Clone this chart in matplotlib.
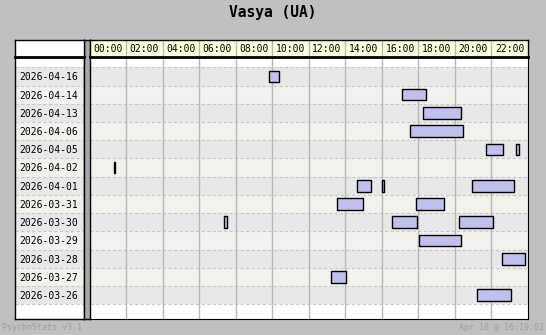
import numpy as np
import matplotlib
matplotlib.use("Agg")
import matplotlib.pyplot as plt

W, H = 546, 335

days = ["2026-04-16", "2026-04-14", "2026-04-13", "2026-04-06", "2026-04-05",
        "2026-04-02", "2026-04-01", "2026-03-31", "2026-03-30", "2026-03-29",
        "2026-03-28", "2026-03-27", "2026-03-26"]

# sessions per day as (start hour, end hour)
sessions = [
    [(9.8, 10.35)],
    [(17.1, 18.44)],
    [(18.25, 20.36)],
    [(17.54, 20.46)],
    [(21.7, 22.65), (23.34, 23.53)],
    [(1.35, 1.42)],
    [(14.64, 15.43), (16.01, 16.14), (20.94, 23.26)],
    [(13.55, 14.99), (17.87, 19.42)],
    [(7.35, 7.5), (16.56, 17.95), (20.22, 22.11)],
    [(18.04, 20.36)],
    [(22.58, 23.86)],
    [(13.22, 14.06)],
    [(21.21, 23.09)],
]

hour_ticks = list(range(0, 24, 2))
hour_labels = [f"{h:02d}:00" for h in hour_ticks]

title = "Vasya (UA)"
footer_left = "PsychoStats v3.1"
footer_right = "Apr 18 @ 16:19:02"

BG = "#c0c0c0"
ROW_A = "#e8e8e8"
ROW_B = "#f3f1ec"
HEAD = "#ffffdc"
BAR = "#c0c0ee"
GRID = "#b8b8b8"
MONO = "DejaVu Sans Mono"


def box(x0, y0, x1, y1):
    # pixel box (top-left origin) -> figure fraction rect
    return [x0 / W, 1 - y1 / H, (x1 - x0) / W, (y1 - y0) / H]


fig = plt.figure(figsize=(W / 100, H / 100), dpi=100, facecolor=BG)

n = len(days)
row_h = (304.3 - 67.3) / n
pad_top = (67.3 - 57) / row_h
pad_bot = (319 - 304.3) / row_h
ylim = (n - 0.5 + pad_bot, -0.5 - pad_top)

# main plot area
ax = fig.add_axes(box(89.5, 57, 528, 319))
ax.set_xlim(0, 24)
ax.set_ylim(*ylim)
ax.set_facecolor("white")
for i in range(n):
    ax.axhspan(i - 0.5, i + 0.5, color=ROW_A if i % 2 == 0 else ROW_B, lw=0, zorder=0)
    ax.axhline(i - 0.5, color="#c8c8c8", lw=0.8, ls=(0, (3, 2)), zorder=1)
ax.axhline(n - 0.5, color="#c8c8c8", lw=0.8, ls=(0, (3, 2)), zorder=1)
for h in hour_ticks[1:]:
    ax.axvline(h, color=GRID, lw=1, zorder=1)
for i, segs in enumerate(sessions):
    ax.broken_barh([(s, e - s) for s, e in segs], (i - 0.32, 0.64),
                   facecolor=BAR, edgecolor="black", lw=1, zorder=3)
ax.set_xticks([])
ax.set_yticks([])
for sp in ax.spines.values():
    sp.set_visible(False)
ax.spines["right"].set_visible(True)
ax.spines["bottom"].set_visible(True)

# label column
axl = fig.add_axes(box(15, 57, 84, 319))
axl.set_xlim(0, 1)
axl.set_ylim(*ylim)
axl.set_facecolor("white")
for i, d in enumerate(days):
    axl.axhspan(i - 0.5, i + 0.5, color=ROW_A if i % 2 == 0 else ROW_B, lw=0, zorder=0)
    axl.axhline(i - 0.5, color="#c8c8c8", lw=0.8, ls=(0, (3, 2)), zorder=1)
    axl.text(0.06, i + 0.05, d, family=MONO, fontsize=7, va="center", ha="left")
axl.axhline(n - 0.5, color="#c8c8c8", lw=0.8, ls=(0, (3, 2)), zorder=1)
axl.set_xticks([])
axl.set_yticks([])
for sp in axl.spines.values():
    sp.set_linewidth(1)

# separator between label column and plot
axs = fig.add_axes(box(84, 40, 89.5, 319))
axs.set_facecolor("#a8a8a8")
axs.set_xticks([])
axs.set_yticks([])
for sp in axs.spines.values():
    sp.set_linewidth(1)

# header row
axh = fig.add_axes(box(89.5, 40, 528, 57))
axh.set_xlim(0, 24)
axh.set_ylim(0, 1)
axh.set_facecolor(HEAD)
for h, lab in zip(hour_ticks, hour_labels):
    if h:
        axh.axvline(h, color=GRID, lw=1)
    axh.text(h + 1, 0.5, lab, family=MONO, fontsize=7, ha="center", va="center")
axh.set_xticks([])
axh.set_yticks([])
for sp in axh.spines.values():
    sp.set_linewidth(1)
axh.spines["bottom"].set_linewidth(2)

axhl = fig.add_axes(box(15, 40, 84, 57))
axhl.set_facecolor("white")
axhl.set_xticks([])
axhl.set_yticks([])
for sp in axhl.spines.values():
    sp.set_linewidth(1)
axhl.spines["bottom"].set_linewidth(2)

fig.text(273 / W, 1 - 13 / H, title, family=MONO, fontsize=10.5, weight="bold",
         ha="center", va="center")
fig.text(2 / W, 1 - 328 / H, footer_left, family=MONO, fontsize=6,
         color="#a0a0a0", ha="left", va="center")
fig.text(544 / W, 1 - 328 / H, footer_right, family=MONO, fontsize=6,
         color="#a0a0a0", ha="right", va="center")

fig.savefig("out.png", dpi=100, facecolor=BG)
